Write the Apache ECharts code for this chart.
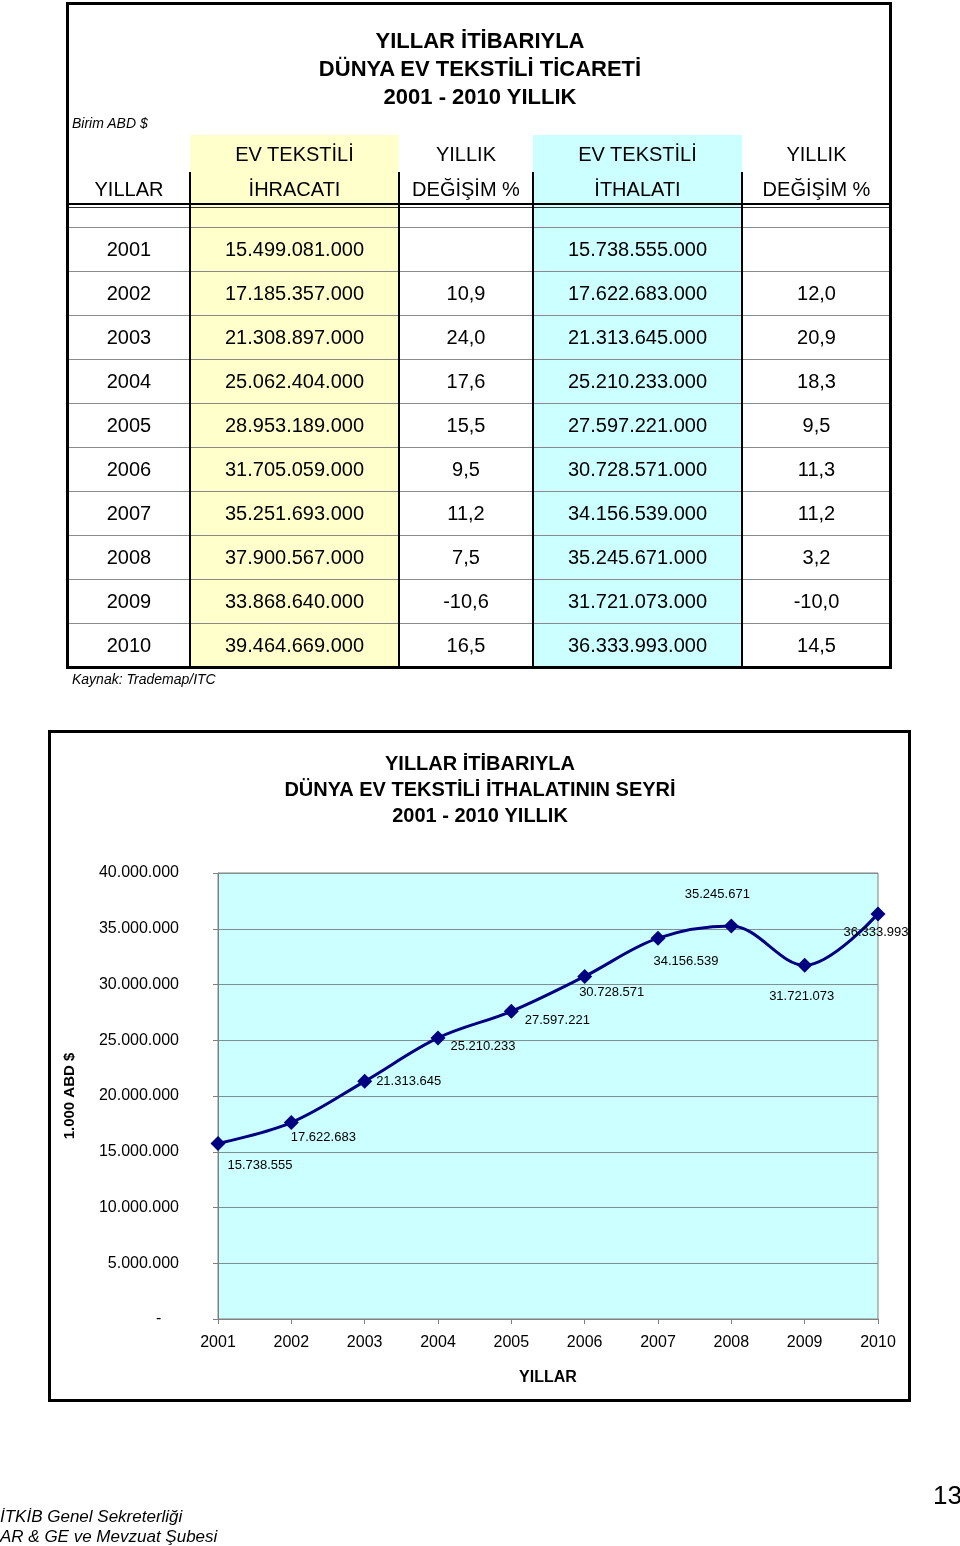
<!DOCTYPE html>
<html><head><meta charset="utf-8">
<script src="https://cdn.jsdelivr.net/npm/echarts@6/dist/echarts.min.js"></script>
<style>
html,body{margin:0;padding:0;background:#fff;}
#page{position:relative;width:960px;height:1546px;overflow:hidden;font-family:"Liberation Sans",Arial,Helvetica,sans-serif;color:#000;}
#chart{position:absolute;left:0;top:0;width:960px;height:1546px;}
#tbl{position:absolute;left:0;top:0;width:960px;height:720px;}
.a{position:absolute;}
.t{position:absolute;white-space:nowrap;line-height:1;transform:translate(-50%,-50%);}
.l{position:absolute;white-space:nowrap;line-height:1;}
</style></head>
<body><div id="page"><div id="chart"></div><div id="tbl"></div></div>
<script>
// ---------- DATA ----------
const years = ['2001','2002','2003','2004','2005','2006','2007','2008','2009','2010'];
const exportValues = [15499081000, 17185357000, 21308897000, 25062404000, 28953189000, 31705059000, 35251693000, 37900567000, 33868640000, 39464669000];
const exportChange = [null, 10.9, 24.0, 17.6, 15.5, 9.5, 11.2, 7.5, -10.6, 16.5];
const importValues = [15738555000, 17622683000, 21313645000, 25210233000, 27597221000, 30728571000, 34156539000, 35245671000, 31721073000, 36333993000];
const importChange = [null, 12.0, 20.9, 18.3, 9.5, 11.3, 11.2, 3.2, -10.0, 14.5];
const importThousands = [15738555, 17622683, 21313645, 25210233, 27597221, 30728571, 34156539, 35245671, 31721073, 36333993];
const tableTitle = ['YILLAR İTİBARIYLA', 'DÜNYA EV TEKSTİLİ TİCARETİ', '2001 - 2010 YILLIK'];
const headerTop = ['', 'EV TEKSTİLİ', 'YILLIK', 'EV TEKSTİLİ', 'YILLIK'];
const headerBottom = ['YILLAR', 'İHRACATI', 'DEĞİŞİM %', 'İTHALATI', 'DEĞİŞİM %'];
const chartTitle = 'YILLAR İTİBARIYLA\nDÜNYA EV TEKSTİLİ İTHALATININ SEYRİ\n2001 - 2010 YILLIK';
const yAxisName = '1.000 ABD $';
const xAxisName = 'YILLAR';

// ---------- helpers ----------
function fmtInt(n){ return String(n).replace(/\B(?=(\d{3})+(?!\d))/g, '.'); }
function fmtPct(v){ return v === null ? '' : v.toFixed(1).replace('.', ','); }

// ---------- TABLE (HTML) ----------
const tbl = document.getElementById('tbl');
function box(x, y, w, h, style){ const d = document.createElement('div'); d.className='a'; d.style.cssText = `left:${x}px;top:${y}px;width:${w}px;height:${h}px;` + style; tbl.appendChild(d); return d; }
function txt(cx, cy, s, style){ const d = document.createElement('div'); d.className='t'; d.style.cssText = `left:${cx}px;top:${cy}px;` + style; d.textContent = s; tbl.appendChild(d); return d; }
function ltxt(x, cy, s, style){ const d = document.createElement('div'); d.className='l'; d.style.cssText = `left:${x}px;top:${cy}px;transform:translateY(-50%);` + style; d.textContent = s; tbl.appendChild(d); return d; }

const colX = [68, 190, 399, 533, 742, 891];
const tblTop = 3, tblBottom = 667;
const rowTop0 = 227, rowH = 44;
// coloured columns
box(colX[1], 135, colX[2]-colX[1], tblBottom-135, 'background:#ffffcc;');
box(colX[3], 135, colX[4]-colX[3], tblBottom-135, 'background:#ccffff;');
// title
tableTitle.forEach((s, i) => txt(480, 41 + i*28, s, 'font-weight:bold;font-size:22px;'));
ltxt(72, 123, 'Birim ABD $', 'font-style:italic;font-size:14px;');
// headers
for (let c = 0; c < 5; c++) {
  const cx = (colX[c] + colX[c+1]) / 2;
  if (headerTop[c]) txt(cx, 154, headerTop[c], 'font-size:20px;');
  txt(cx, 189, headerBottom[c], 'font-size:20px;');
}
// double line under header
box(colX[0], 203, colX[5]-colX[0], 2, 'background:#000;');
box(colX[0], 207, colX[5]-colX[0], 1, 'background:#333;');
// row lines
for (let i = 0; i < years.length; i++) box(colX[0], rowTop0 + i*rowH, colX[5]-colX[0], 1, 'background:#8a8a8a;');
// vertical separators
for (let c = 1; c < 5; c++) box(colX[c]-1, 172, 2, tblBottom-172, 'background:#000;');
// data cells
years.forEach((y, i) => {
  const cy = rowTop0 + i*rowH + 22;
  const cells = [y, fmtInt(exportValues[i]), fmtPct(exportChange[i]), fmtInt(importValues[i]), fmtPct(importChange[i])];
  cells.forEach((s, c) => { if (s) txt((colX[c]+colX[c+1])/2, cy, s, 'font-size:20px;'); });
});
// outer border
box(colX[0]-2, tblTop-1, colX[5]-colX[0]+3, tblBottom-tblTop+3, 'border:3px solid #000;box-sizing:border-box;');
ltxt(72, 679, 'Kaynak: Trademap/ITC', 'font-style:italic;font-size:14px;');

// footer
const pg = document.getElementById('page');
function ptxt(x, cy, s, style){ const d = document.createElement('div'); d.className='l'; d.style.cssText = `left:${x}px;top:${cy}px;transform:translateY(-50%);` + style; d.textContent = s; pg.appendChild(d); }
ptxt(0, 1516, 'İTKİB Genel Sekreterliği', 'font-style:italic;font-size:17px;');
ptxt(0, 1536, 'AR & GE ve Mevzuat Şubesi', 'font-style:italic;font-size:17px;');
ptxt(933, 1495, '13', 'font-size:26px;');

// ---------- CHART (ECharts) ----------
const labelOffsets = [[42,22],[32,15],[44,0],[45,9],[46,9],[27,16],[28,23],[-14,-32],[-3,31],[-2,19]];
const chart = echarts.init(document.getElementById('chart'), null, {renderer:'canvas'});
const font = '"Liberation Sans", Arial, Helvetica, sans-serif';
chart.setOption({
  animation: false,
  textStyle: { fontFamily: font, color: '#000' },
  title: {
    text: chartTitle, left: 'center', top: 746,
    textStyle: { fontFamily: font, fontWeight: 'bold', fontSize: 20, lineHeight: 26, color: '#000' }
  },
  graphic: [{
    type: 'rect', shape: { x: 49.5, y: 731.5, width: 860, height: 669 },
    style: { fill: null, stroke: '#000', lineWidth: 3 }, silent: true
  }],
  grid: { left: 218, right: 82, top: 873, bottom: 227, show: true, backgroundColor: '#ccffff', borderColor: '#808080', borderWidth: 1 },
  xAxis: {
    type: 'category', data: years, boundaryGap: false,
    name: xAxisName, nameLocation: 'middle', nameGap: 51,
    nameTextStyle: { fontFamily: font, fontWeight: 'bold', fontSize: 16, color: '#000' },
    axisLine: { lineStyle: { color: '#808080', width: 1 } },
    axisTick: { show: true, length: 5, lineStyle: { color: '#808080' } },
    axisLabel: { fontFamily: font, fontSize: 16, color: '#000', margin: 16 },
    splitLine: { show: false }
  },
  yAxis: {
    type: 'value', min: 0, max: 40000000, interval: 5000000,
    name: yAxisName, nameLocation: 'middle', nameGap: 141, nameRotate: 90,
    nameTextStyle: { fontFamily: font, fontWeight: 'bold', fontSize: 15, color: '#000' },
    axisLine: { show: true, lineStyle: { color: '#808080', width: 1 } },
    axisTick: { show: true, length: 5, lineStyle: { color: '#808080' } },
    axisLabel: { fontFamily: font, fontSize: 16, color: '#000', margin: 39,
      formatter: v => v === 0 ? '-    ' : fmtInt(v) },
    splitLine: { show: true, lineStyle: { color: '#7f9090', width: 1 } }
  },
  series: [{
    type: 'line', data: importThousands.map((v, i) => ({
      value: v,
      label: { offset: labelOffsets[i] }
    })),
    smooth: 0.35,
    lineStyle: { color: '#000080', width: 3 },
    itemStyle: { color: '#000080' },
    symbol: 'diamond', symbolSize: 15,
    label: { show: true, position: 'inside', align: 'center', verticalAlign: 'middle',
      fontFamily: font, fontSize: 13, color: '#000', formatter: p => fmtInt(p.value) }
  }]
});
</script>
</body></html>
